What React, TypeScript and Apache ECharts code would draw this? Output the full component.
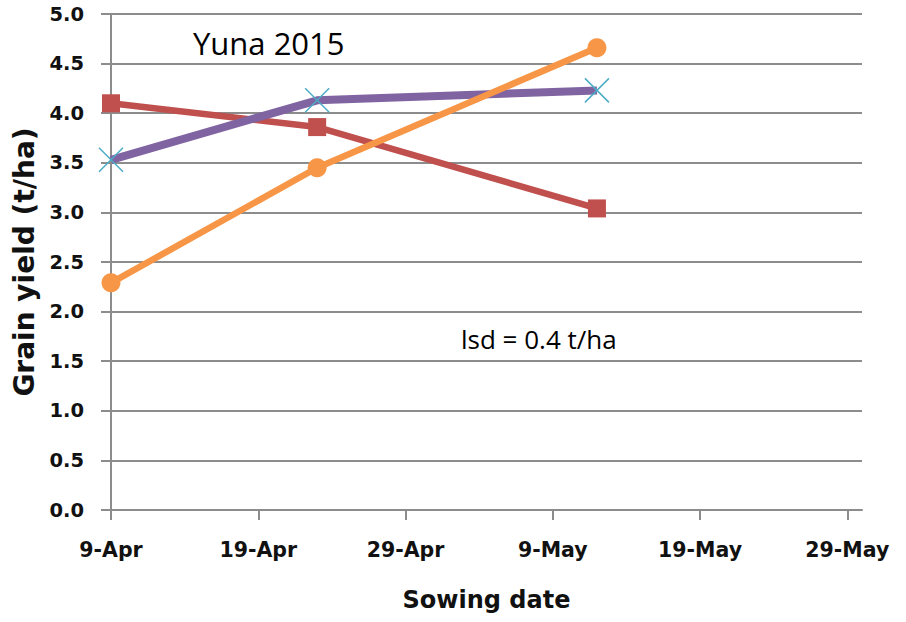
import React, { useEffect, useRef } from "react";
import * as echarts from "echarts";

// Days after 9-Apr for each sowing date
const sowingDays = [0, 14, 33];
const sowingDates = ["9-Apr", "23-Apr", "12-May"];
const xTickDays = [0, 10, 20, 30, 40, 50];
const xTickLabels = ["9-Apr", "19-Apr", "29-Apr", "9-May", "19-May", "29-May"];

const redValues = [4.1, 3.86, 3.04];
const purpleValues = [3.53, 4.13, 4.23];
const orangeValues = [2.29, 3.45, 4.66];

const BOLD_FONT = "DejaVu Sans";
const TEXT_FONT = "Open Sans";

export default function App() {
  const ref = useRef<HTMLDivElement>(null);
  useEffect(() => {
    if (!ref.current) return;
    const chart = echarts.init(ref.current, null, { renderer: "svg" });
    const pts = (vals: number[]) => sowingDays.map((d, i) => [d, vals[i]]);
    chart.setOption({
      animation: false,
      backgroundColor: "#ffffff",
      grid: { left: 111, right: 44, top: 14, bottom: 112, containLabel: false },
      xAxis: {
        type: "value",
        min: 0,
        max: 51,
        interval: 10,
        name: "Sowing date",
        nameLocation: "middle",
        nameGap: 78,
        nameTextStyle: { fontFamily: BOLD_FONT, fontWeight: "bold", fontSize: 24, color: "#111" },
        axisLine: { show: true, lineStyle: { color: "#8c8c8c", width: 2 } },
        axisTick: { show: true, length: 10, inside: false, lineStyle: { color: "#8c8c8c", width: 2 }, customValues: xTickDays },
        axisLabel: {
          customValues: xTickDays,
          margin: 29,
          fontFamily: BOLD_FONT,
          fontWeight: "bold",
          fontSize: 20.5,
          color: "#111",
          formatter: (v: number) => {
            const i = xTickDays.indexOf(Math.round(v));
            return i >= 0 ? xTickLabels[i] : "";
          },
        },
        splitLine: { show: false },
      },
      yAxis: {
        type: "value",
        min: 0,
        max: 5,
        interval: 0.5,
        name: "Grain yield (t/ha)",
        nameLocation: "middle",
        nameRotate: 90,
        nameGap: 69,
        nameTextStyle: { fontFamily: BOLD_FONT, fontWeight: "bold", fontSize: 28, color: "#111" },
        axisLine: { show: true, lineStyle: { color: "#8c8c8c", width: 2 } },
        axisTick: { show: true, length: 10, lineStyle: { color: "#8c8c8c", width: 2 } },
        axisLabel: {
          margin: 27,
          fontFamily: BOLD_FONT,
          fontWeight: "bold",
          fontSize: 19.5,
          color: "#111",
          formatter: (v: number) => v.toFixed(1),
        },
        splitLine: { show: true, lineStyle: { color: "#8c8c8c", width: 2 } },
      },
      graphic: [
        {
          type: "text",
          left: 193,
          top: 27,
          style: { text: "Yuna 2015", fontFamily: TEXT_FONT, fontSize: 31, fill: "#000" },
        },
        {
          type: "text",
          left: 461,
          top: 326,
          style: { text: "lsd = 0.4 t/ha", fontFamily: TEXT_FONT, fontSize: 26, fill: "#000" },
        },
      ],
      series: [
        {
          name: "red",
          type: "line",
          data: pts(redValues),
          symbol: "rect",
          symbolSize: 18,
          lineStyle: { color: "#C0504D", width: 6.5 },
          itemStyle: { color: "#C0504D" },
          z: 2,
        },
        {
          name: "purple",
          type: "line",
          data: pts(purpleValues),
          symbol: "path://M0,0L10,10M10,0L0,10",
          symbolSize: 24,
          lineStyle: { color: "#8064A2", width: 8 },
          itemStyle: { color: "none", borderColor: "#4BACC6", borderWidth: 1.5 },
          z: 3,
        },
        {
          name: "orange",
          type: "line",
          data: pts(orangeValues),
          symbol: "circle",
          symbolSize: 19,
          lineStyle: { color: "#F79646", width: 6.5 },
          itemStyle: { color: "#F79646" },
          z: 4,
        },
      ],
    });
    return () => chart.dispose();
  }, []);
  return (
    <div
      ref={ref}
      style={{ position: "fixed", left: 0, top: 0, width: 906, height: 622 }}
      data-dates={sowingDates.join(",")}
    />
  );
}
